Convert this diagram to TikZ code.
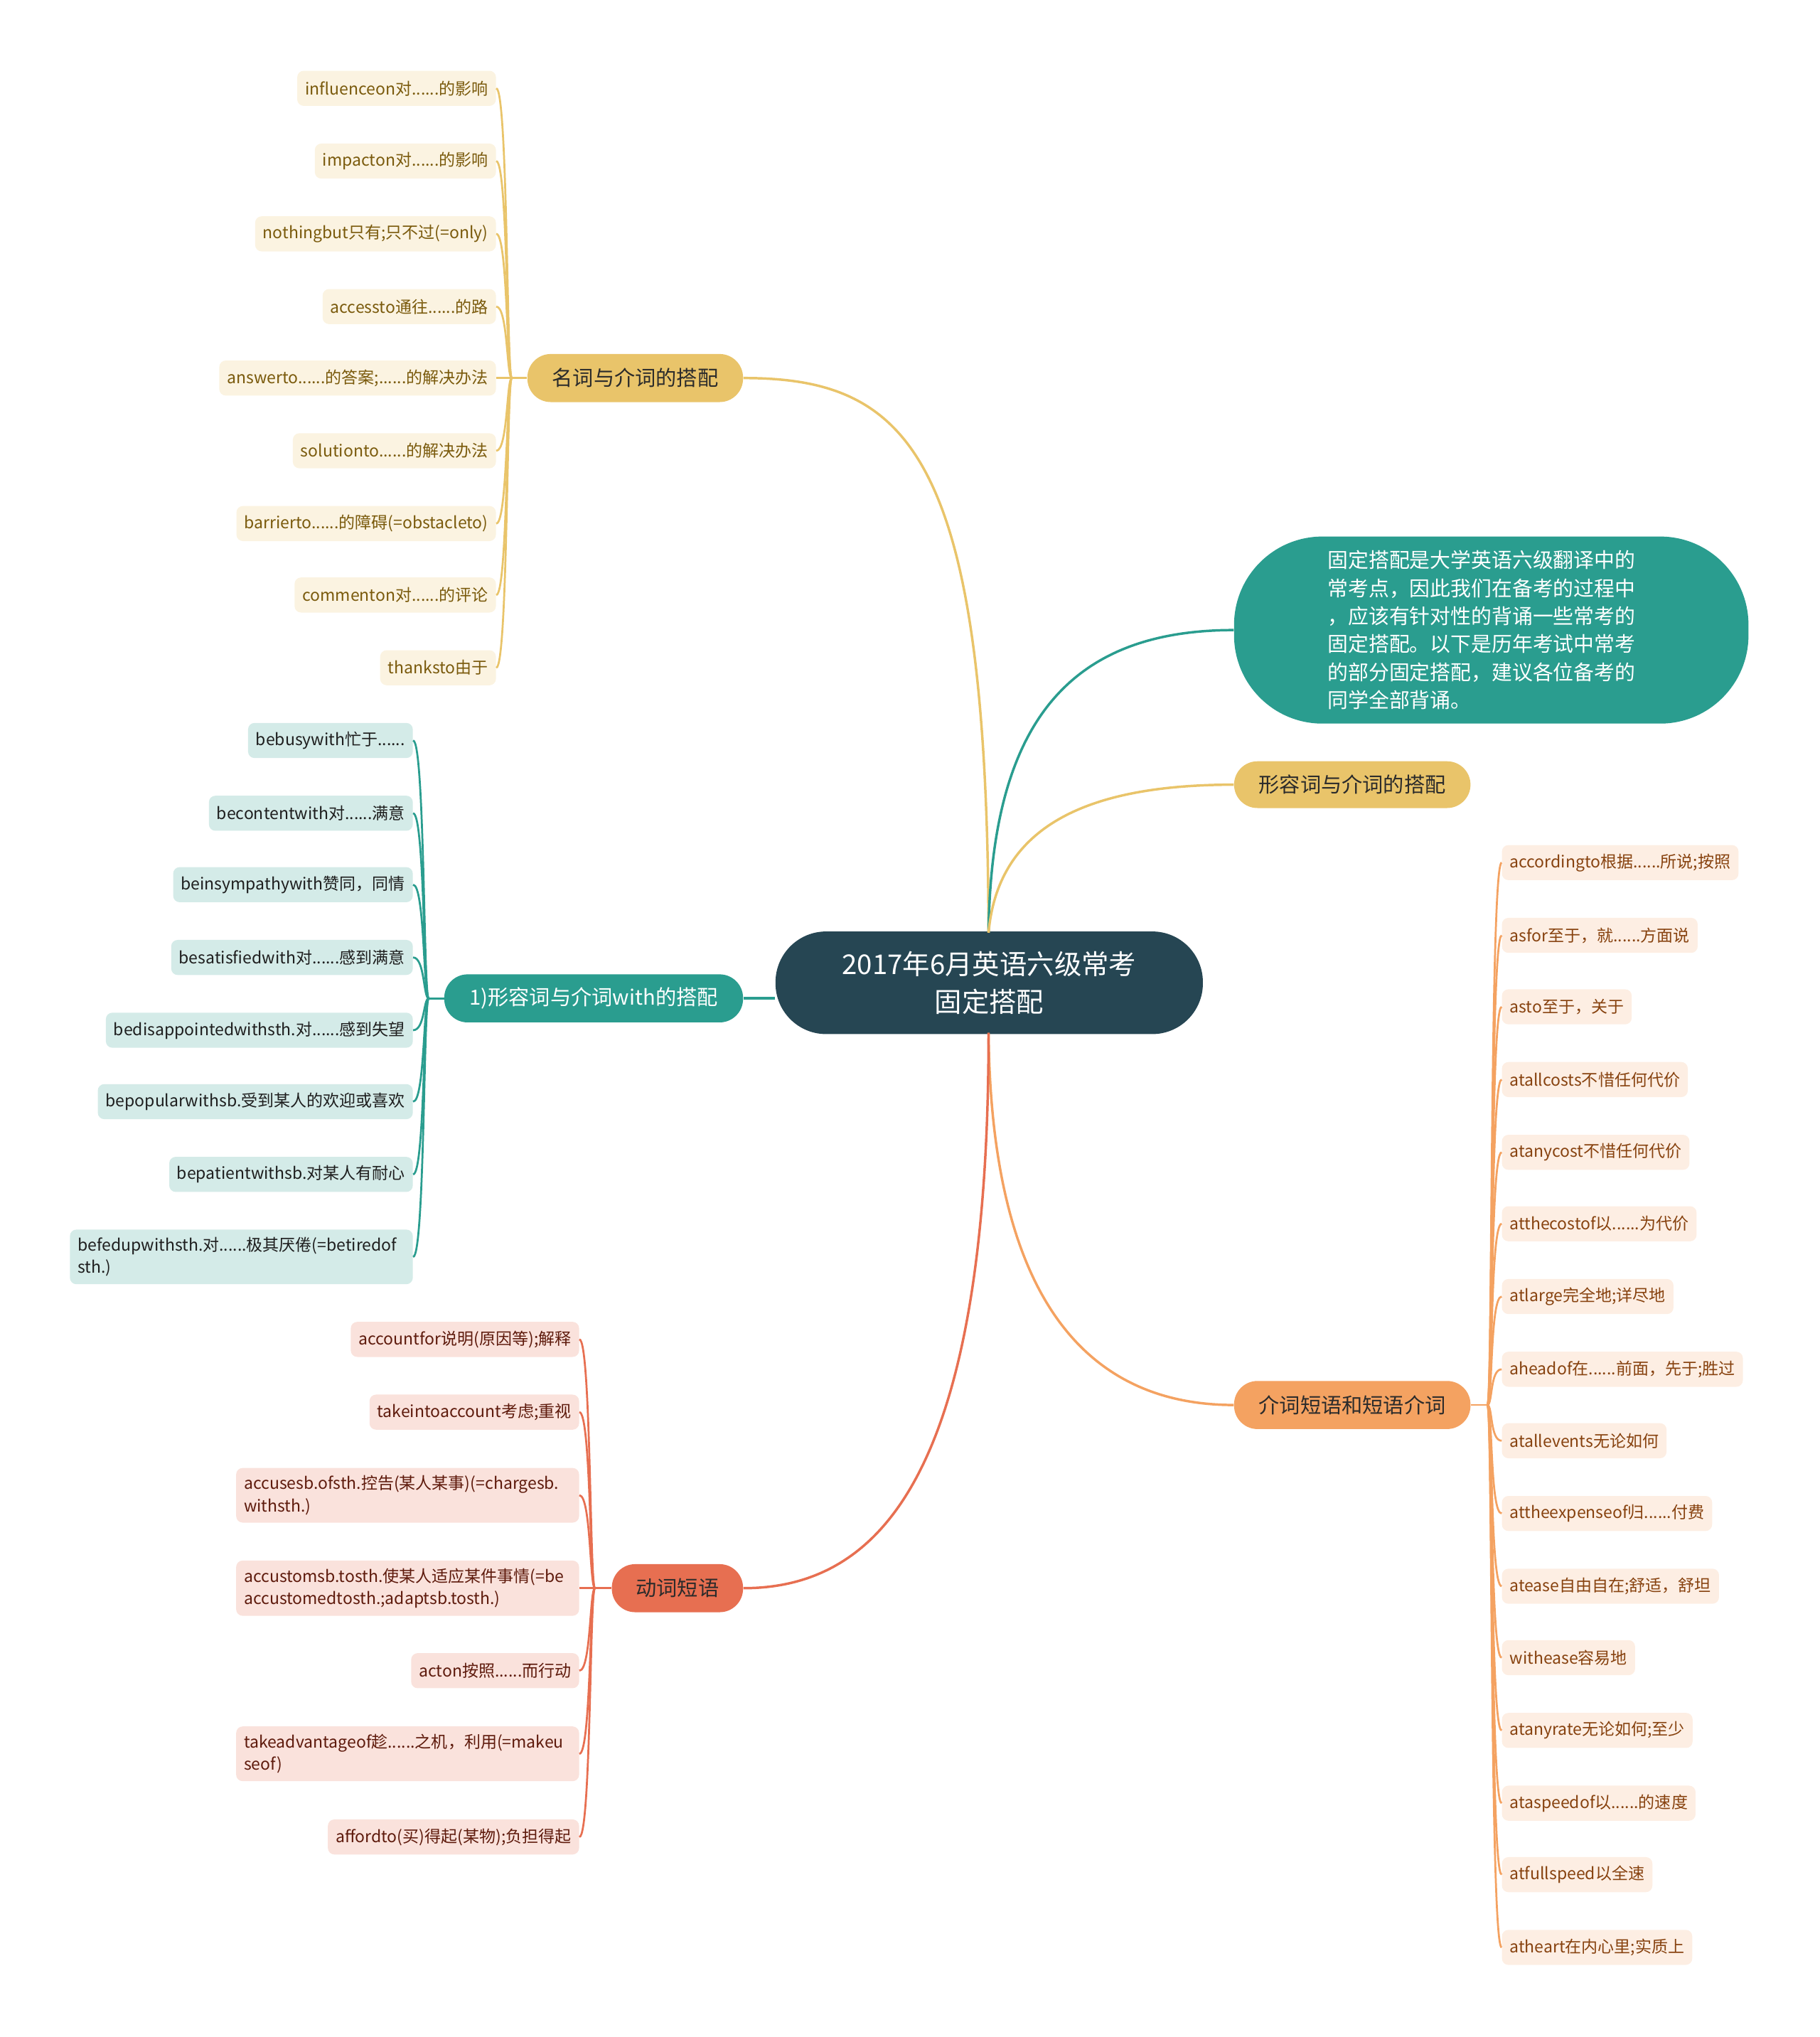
\documentclass[tikz,border=0pt]{standalone}
\usepackage{fontspec}
\setmainfont{Noto Sans CJK SC}
\usetikzlibrary{calc}
\definecolor{cDark}{HTML}{264653}
\definecolor{cTeal}{HTML}{2A9D8F}
\definecolor{cGold}{HTML}{E9C46A}
\definecolor{cOrange}{HTML}{F4A261}
\definecolor{cRed}{HTML}{E76F51}
\definecolor{fGold}{HTML}{FBF3E1}
\definecolor{fTeal}{HTML}{D4EBE8}
\definecolor{fRed}{HTML}{FAE2DC}
\definecolor{fOrange}{HTML}{FDEEE3}
\definecolor{tGold}{HTML}{7A5A0C}
\definecolor{tTeal}{HTML}{1E1E1E}
\definecolor{tRed}{HTML}{5E1A0C}
\definecolor{tOrange}{HTML}{87420F}
\definecolor{tMain}{HTML}{2B2B2B}
\begin{document}
\begin{tikzpicture}[x=1pt,y=-1pt,
  leaf/.style={rounded corners=5pt, inner xsep=6pt, inner ysep=6pt, minimum height=27pt,
    font=\fontsize{12.6}{17}\selectfont, align=left},
  wide/.style={text width=252pt},
  leafG/.style={leaf, fill=fGold, text=tGold, anchor=east},
  leafT/.style={leaf, fill=fTeal, text=tTeal, anchor=east},
  leafR/.style={leaf, fill=fRed, text=tRed, anchor=east},
  leafO/.style={leaf, fill=fOrange, text=tOrange, anchor=west},
  branch/.style={rounded corners=18pt, minimum height=37pt, inner sep=0pt,
    font=\fontsize{16}{20}\selectfont},
  mline/.style={line width=1.9pt},
  lline/.style={line width=1.5pt},
]
\useasboundingbox (0,0) rectangle (1401,1568);

% central
\node[fill=cDark, text=white, rounded corners=39pt, minimum width=329pt, minimum height=79pt,
  inner sep=0pt, align=center, font=\fontsize{21}{29}\selectfont] (c) at (761.5,756.5)
  {2017年6月英语六级常考\\固定搭配};
\coordinate (ct) at (761,718);
\coordinate (cb) at (761,795);

% branches
\node[branch, fill=cGold, text=tMain, minimum width=166pt] (n1) at (489,291) {名词与介词的搭配};
\node[fill=cTeal, text=white, rounded corners=68pt, minimum width=396pt, minimum height=144pt,
  inner sep=0pt, text width=252pt, align=left, font=\fontsize{15.8}{21.6}\selectfont] (d) at (1148,485)
  {固定搭配是大学英语六级翻译中的\\常考点，因此我们在备考的过程中\\，应该有针对性的背诵一些常考的\\固定搭配。以下是历年考试中常考\\的部分固定搭配，建议各位备考的\\同学全部背诵。};
\node[branch, fill=cGold, text=tMain, minimum width=182pt, minimum height=36pt] (n3) at (1041,604) {形容词与介词的搭配};
\node[branch, fill=cOrange, text=tMain, minimum width=182pt] (n4) at (1041,1081.5) {介词短语和短语介词};
\node[branch, fill=cRed, text=tMain, minimum width=101pt] (n5) at (521.5,1222.5) {动词短语};
\node[branch, fill=cTeal, text=white, minimum width=230pt] (n6) at (457,768.5) {1)形容词与介词with的搭配};

% main connectors
\draw[mline, cGold] (ct) .. controls (760,350) and (700,291) .. (n1.east);
\draw[mline, cTeal] (ct) .. controls (763,560) and (820,485) .. (d.west);
\draw[mline, cGold] (ct) .. controls (768,640) and (830,604) .. (n3.west);
\draw[mline, cOrange] (cb) .. controls (763,990) and (830,1081.5) .. (n4.west);
\draw[mline, cRed] (cb) .. controls (761,1130) and (680,1222.5) .. (n5.east);
\draw[mline, cTeal] (c.west |- n6.east) -- (n6.east);

% 名词 leaves
\node[leafG] (g1) at (382,68) {influenceon对......的影响};
\node[leafG] (g2) at (382,124) {impacton对......的影响};
\node[leafG] (g3) at (382,180) {nothingbut只有;只不过(=only)};
\node[leafG] (g4) at (382,236) {accessto通往......的路};
\node[leafG] (g5) at (382,291) {answerto......的答案;......的解决办法};
\node[leafG] (g6) at (382,347) {solutionto......的解决办法};
\node[leafG] (g7) at (382,403) {barrierto......的障碍(=obstacleto)};
\node[leafG] (g8) at (382,458) {commenton对......的评论};
\node[leafG] (g9) at (382,514) {thanksto由于};
\coordinate (jg) at (394,291);
\draw[lline, cGold] (jg) -- (n1.west);
\foreach \i in {1,...,9}
  \draw[lline, cGold] (g\i.east) .. controls ($(g\i.east)+(9,0)$) and ($(jg)+(-4,0)$) .. (jg);

% 1) leaves
\node[leafT] (t1) at (318,570) {bebusywith忙于......};
\node[leafT] (t2) at (318,626) {becontentwith对......满意};
\node[leafT] (t3) at (318,681) {beinsympathywith赞同，同情};
\node[leafT] (t4) at (318,737) {besatisfiedwith对......感到满意};
\node[leafT] (t5) at (318,793) {bedisappointedwithsth.对......感到失望};
\node[leafT] (t6) at (318,848) {bepopularwithsb.受到某人的欢迎或喜欢};
\node[leafT] (t7) at (318,904) {bepatientwithsb.对某人有耐心};
\node[leafT, wide] (t8) at (318,967.5) {befedupwithsth.对......极其厌倦(=betiredof\\sth.)};
\coordinate (jt) at (330,768.5);
\draw[lline, cTeal] (jt) -- (n6.west);
\foreach \i in {1,...,8}
  \draw[lline, cTeal] (t\i.east) .. controls ($(t\i.east)+(9,0)$) and ($(jt)+(-4,0)$) .. (jt);

% 动词 leaves
\node[leafR] (r1) at (446,1031) {accountfor说明(原因等);解释};
\node[leafR] (r2) at (446,1087) {takeintoaccount考虑;重视};
\node[leafR, wide] (r3) at (446,1151) {accusesb.ofsth.控告(某人某事)(=chargesb.\\withsth.)};
\node[leafR, wide] (r4) at (446,1222.5) {accustomsb.tosth.使某人适应某件事情(=be\\accustomedtosth.;adaptsb.tosth.)};
\node[leafR] (r5) at (446,1286) {acton按照......而行动};
\node[leafR, wide] (r6) at (446,1350) {takeadvantageof趁......之机，利用(=makeu\\seof)};
\node[leafR] (r7) at (446,1414) {affordto(买)得起(某物);负担得起};
\coordinate (jr) at (458,1222.5);
\draw[lline, cRed] (jr) -- (n5.west);
\foreach \i in {1,...,7}
  \draw[lline, cRed] (r\i.east) .. controls ($(r\i.east)+(9,0)$) and ($(jr)+(-4,0)$) .. (jr);

% 介词 leaves
\node[leafO] (o1) at (1156,664) {accordingto根据......所说;按照};
\node[leafO] (o2) at (1156,720) {asfor至于，就......方面说};
\node[leafO] (o3) at (1156,775) {asto至于，关于};
\node[leafO] (o4) at (1156,831) {atallcosts不惜任何代价};
\node[leafO] (o5) at (1156,887) {atanycost不惜任何代价};
\node[leafO] (o6) at (1156,942) {atthecostof以......为代价};
\node[leafO] (o7) at (1156,998) {atlarge完全地;详尽地};
\node[leafO] (o8) at (1156,1054) {aheadof在......前面，先于;胜过};
\node[leafO] (o9) at (1156,1109) {atallevents无论如何};
\node[leafO] (o10) at (1156,1165) {attheexpenseof归......付费};
\node[leafO] (o11) at (1156,1221) {atease自由自在;舒适，舒坦};
\node[leafO] (o12) at (1156,1276) {withease容易地};
\node[leafO] (o13) at (1156,1332) {atanyrate无论如何;至少};
\node[leafO] (o14) at (1156,1388) {ataspeedof以......的速度};
\node[leafO] (o15) at (1156,1443) {atfullspeed以全速};
\node[leafO] (o16) at (1156,1499) {atheart在内心里;实质上};
\coordinate (jo) at (1145,1081.5);
\draw[lline, cOrange] (n4.east) -- (jo);
\foreach \i in {1,...,16}
  \draw[lline, cOrange] (o\i.west) .. controls ($(o\i.west)+(-9,0)$) and ($(jo)+(4,0)$) .. (jo);
\end{tikzpicture}
\end{document}
